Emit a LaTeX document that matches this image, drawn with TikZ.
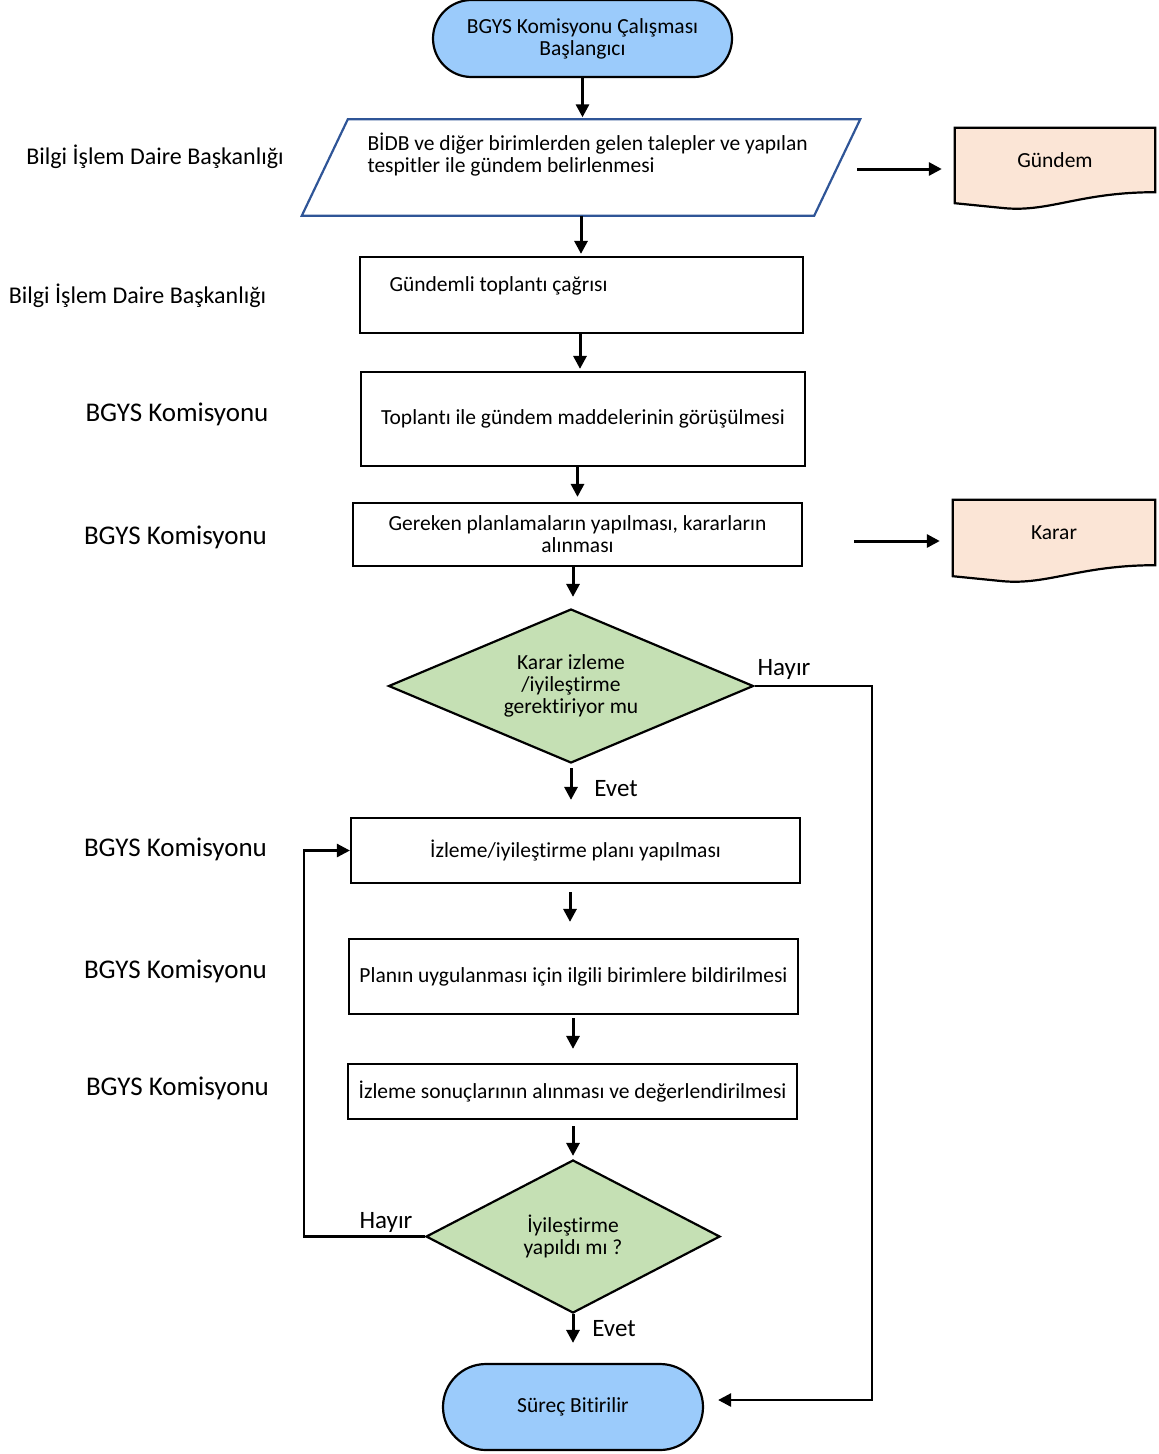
\documentclass[tikz,border=0pt]{standalone}
\usepackage{fontspec}
\setmainfont{Carlito}[Ligatures=NoCommon]
\usetikzlibrary{shapes.geometric,shapes.misc,arrows.meta,calc}
\definecolor{termblue}{HTML}{9BCBFB}
\definecolor{docpeach}{HTML}{FBE5D6}
\definecolor{diagreen}{HTML}{C5E0B4}
\definecolor{parablue}{HTML}{2F5597}
\begin{document}
\begin{tikzpicture}[x=1pt,y=-1pt,
  every node/.style={font=\fontsize{21.5}{22}\selectfont},
  box/.style={draw, line width=2.2pt, rectangle, inner sep=0pt, align=center},
  term/.style={draw, line width=2.2pt, rounded rectangle, fill=termblue, inner sep=0pt, align=center},
  dec/.style={draw, line width=2.2pt, diamond, fill=diagreen, inner sep=0pt, align=center},
  docnode/.style={rectangle, inner sep=0pt, align=center},
  docline/.style={draw, line width=2.2pt, fill=docpeach},
  side/.style={font=\fontsize{27}{28}\selectfont},
  sidebi/.style={font=\fontsize{24}{26}\selectfont},
  yn/.style={font=\fontsize{25}{27}\selectfont},
  arr/.style={line width=3pt, -{Triangle[length=13pt,width=13pt]}},
  flow/.style={line width=2.6pt}
]
\useasboundingbox (0,0) rectangle (1159,1454);

% side labels
\node[sidebi] (sl1) at (155,157) {Bilgi İşlem Daire Başkanlığı};
\node[sidebi] (sl2) at (137.5,296) {Bilgi İşlem Daire Başkanlığı};
\node[side] (sl3) at (177,414) {BGYS Komisyonu};
\node[side] (sl4) at (175.5,537) {BGYS Komisyonu};
\node[side] (sl5) at (175.5,849) {BGYS Komisyonu};
\node[side] (sl6) at (175.5,971) {BGYS Komisyonu};
\node[side] (sl7) at (177.5,1088) {BGYS Komisyonu};

% start
\node[term, minimum width=299, minimum height=77] (start) at (582.5,38.5) {BGYS Komisyonu Çalışması\\Başlangıcı};

% parallelogram
\node[rectangle, inner sep=0pt, minimum width=512, minimum height=96] (par) at (581,167.5) {};
\draw[line width=2.2pt, draw=parablue]
  ($(par.south west)+(-23,0)$) -- ($(par.north west)+(23,0)$) --
  ($(par.north east)+(23,0)$) -- ($(par.south east)+(-23,0)$) -- cycle;
\node[anchor=west, align=left] (partx) at (364,155) {BİDB ve diğer birimlerden gelen talepler ve yapılan\\tespitler ile gündem belirlenmesi};

% Gündem document
\node[docnode, minimum width=200, minimum height=64] (gd) at (1055,160) {};
\draw[docline] (gd.south west) -- (gd.north west) -- (gd.north east) -- (gd.south east)
  .. controls ($(gd.south east)+(-75,0)$) and ($(gd.south west)+(95,20)$) .. ($(gd.south west)+(50,16)$)
  .. controls ($(gd.south west)+(25,14)$) .. ($(gd.south west)+(0,11)$) -- cycle;
\node (gdtx) at (gd.center) {Gündem};

% box 2
\node[box, minimum width=443, minimum height=76] (b2) at (581.5,295) {};
\node[anchor=west] (b2tx) at (386,286) {Gündemli toplantı çağrısı};

% box 3
\node[box, minimum width=444, minimum height=94] (b3) at (583,419) {Toplantı ile gündem maddelerinin görüşülmesi};

% box 4
\node[box, minimum width=449, minimum height=63] (b4) at (577.5,534.5) {Gereken planlamaların yapılması, kararların\\alınması};

% Karar document
\node[docnode, minimum width=202, minimum height=65] (kr) at (1054,532.5) {};
\draw[docline] (kr.south west) -- (kr.north west) -- (kr.north east) -- (kr.south east)
  .. controls ($(kr.south east)+(-75,0)$) and ($(kr.south west)+(95,20)$) .. ($(kr.south west)+(50,16)$)
  .. controls ($(kr.south west)+(25,14)$) .. ($(kr.south west)+(0,11)$) -- cycle;
\node (krtx) at (kr.center) {Karar};

% decision 1
\node[dec, minimum width=365, minimum height=154, aspect=2.37] (d1) at (571,686) {Karar izleme\\/iyileştirme\\gerektiriyor mu};

% box 5-7
\node[box, minimum width=449, minimum height=65] (b5) at (575.5,850.5) {İzleme/iyileştirme planı yapılması};
\node[box, minimum width=449, minimum height=75] (b6) at (573.5,976.5) {Planın uygulanması için ilgili birimlere bildirilmesi};
\node[box, minimum width=449, minimum height=55] (b7) at (572.5,1091.5) {İzleme sonuçlarının alınması ve değerlendirilmesi};

% decision 2
\node[dec, minimum width=294, minimum height=153, aspect=1.92] (d2) at (573,1236.5) {İyileştirme\\yapıldı mı ?};

% end
\node[term, minimum width=260, minimum height=86] (end) at (573,1407) {Süreç Bitirilir};

% arrows
\draw[arr, shorten >=2pt] (start.south) -- (start.south |- par.north);
\draw[arr, shorten >=2pt] (par.south) -- (par.south |- b2.north);
\draw[arr, shorten >=2pt] ($(b2.south)+(-1.5,0)$) -- ($(b2.south |- b3.north)+(-1.5,0)$);
\draw[arr, shorten >=5pt] (b4.north |- b3.south) -- (b4.north);
\draw[arr, shorten >=11pt] ($(b4.south)+(-4.5,0)$) -- ($(b4.south |- d1.north)+(-4.5,0)$);
\draw[arr, shorten <=4pt, shorten >=17pt] (d1.south) -- (d1.south |- b5.north);
\node[yn] (ev1) at (616,789) {Evet};
\draw[arr, shorten <=8pt, shorten >=16pt] ($(b5.south)+(-5.5,0)$) -- ($(b5.south |- b6.north)+(-5.5,0)$);
\draw[arr, shorten <=3pt, shorten >=14pt] ($(b6.south)+(-0.5,0)$) -- ($(b6.south |- b7.north)+(-0.5,0)$);
\draw[arr, shorten <=6pt, shorten >=3pt] ($(b7.south)+(0.5,0)$) -- ($(b7.south |- d2.north)+(0.5,0)$);
\draw[arr, shorten >=20pt] (d2.south) -- (d2.south |- end.north);
\node[yn] (ev2) at (614,1329) {Evet};

% side arrows to documents
\draw[arr, shorten <=20pt, shorten >=13pt] ($(par.east)+(0,1.5)$) -- ($(par.east -| gd.west)+(0,1.5)$);
\draw[arr, shorten <=51pt, shorten >=13pt] ($(b4.east)+(0,6.5)$) -- ($(b4.east -| kr.west)+(0,6.5)$);

% Hayir loops
\coordinate (c1) at (872,686);
\coordinate (c1b) at (872,1400);
\draw[flow, -{Triangle[length=13pt,width=13pt]}, shorten >=14pt] (d1.east) -- (d1.east -| c1) -- (c1b) -- (c1b -| end.east);
\node[yn] (h1) at (784,669) {Hayır};
\coordinate (c2) at (304,1236.5);
\draw[flow, -{Triangle[length=13pt,width=13pt]}] (d2.west) -- (d2.west -| c2) -- (c2 |- b5.west) -- (b5.west);
\node[yn] (h2) at (386,1222) {Hayır};
\end{tikzpicture}
\end{document}
